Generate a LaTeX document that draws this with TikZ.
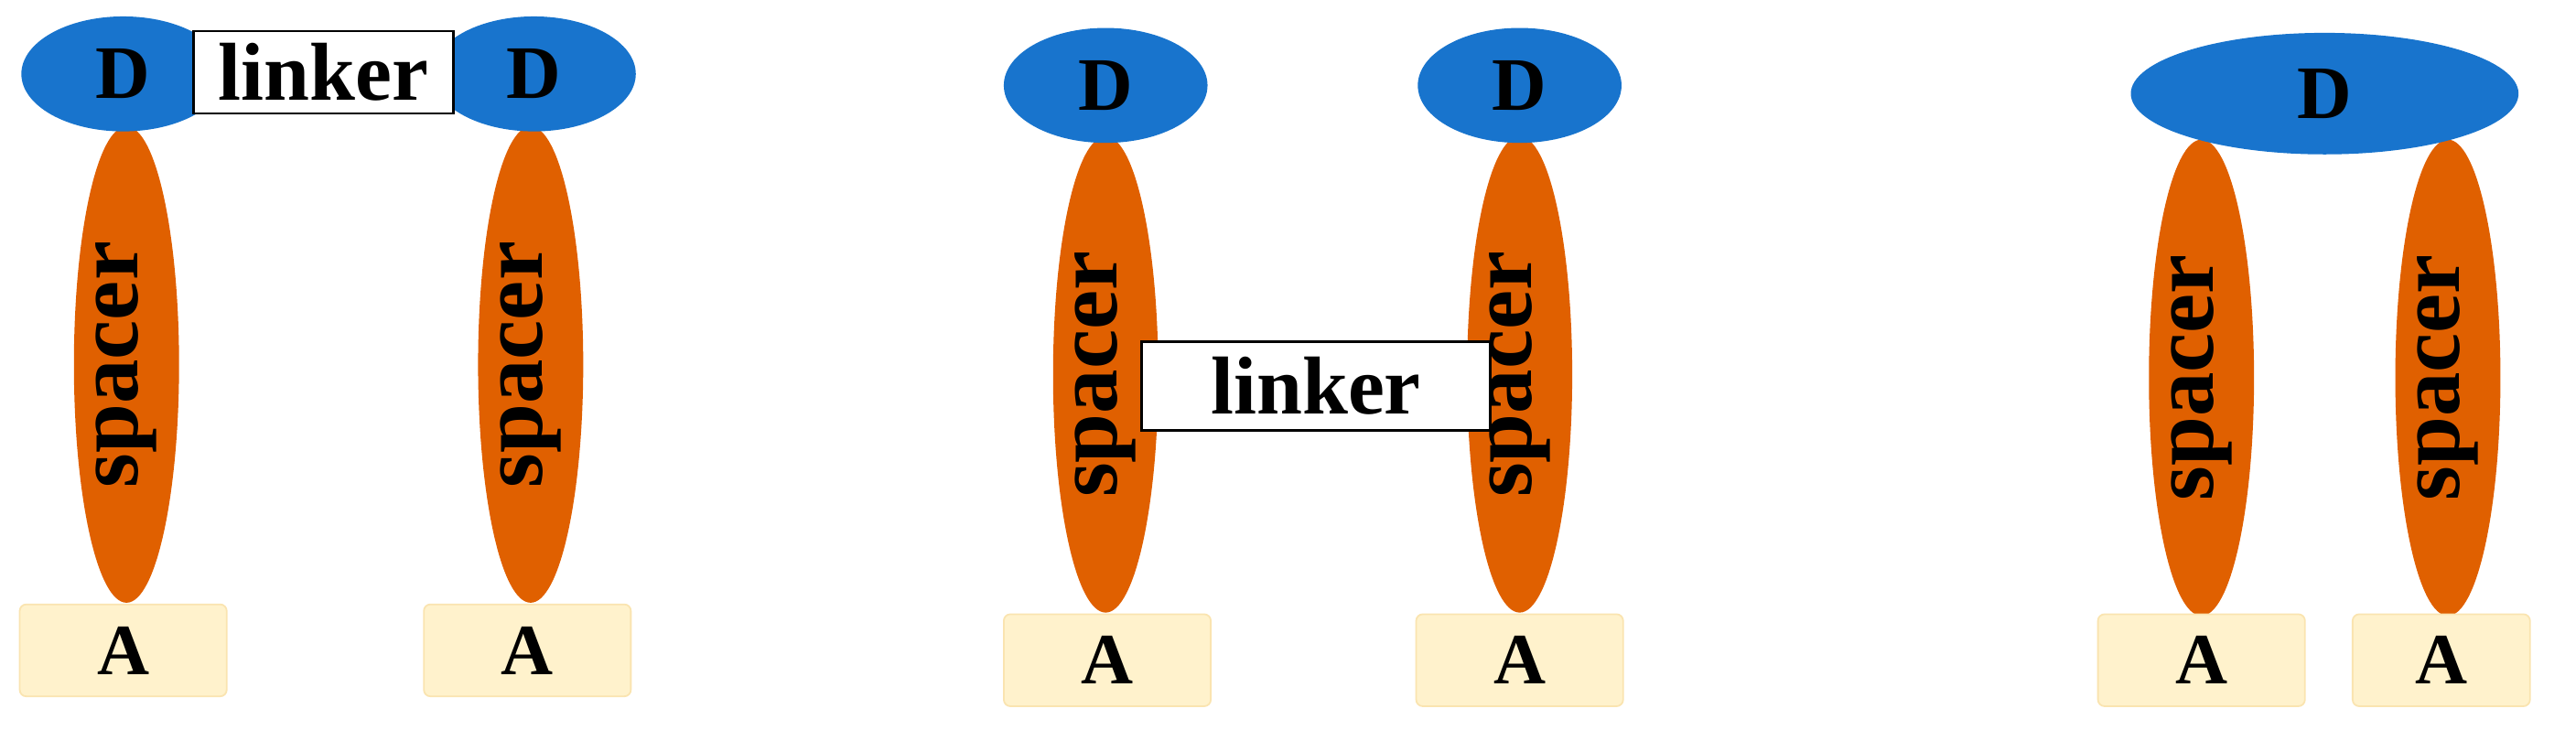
\documentclass[tikz,border=0pt]{standalone}
\usepackage{fontspec}
\setmainfont{Liberation Serif}
\usetikzlibrary{shapes.geometric}
\definecolor{dblue}{RGB}{24,116,205}
\definecolor{sorange}{RGB}{224,96,0}
\definecolor{afill}{RGB}{255,242,204}
\definecolor{aline}{RGB}{250,228,176}
\begin{document}
\begin{tikzpicture}[x=1pt,y=-1pt,
 dnode/.style={ellipse,fill=dblue,inner sep=0,font=\bfseries\fontsize{46}{46}\selectfont},
 spc/.style={ellipse,fill=sorange,minimum width=64,minimum height=290,inner sep=0},
 spt/.style={rotate=90,font=\bfseries\fontsize{54}{54}\selectfont},
 abox/.style={rectangle,rounded corners=4,fill=afill,draw=aline,line width=1,minimum width=126,minimum height=56,inner sep=0,font=\bfseries\fontsize{44}{44}\selectfont},
 lbox/.style={rectangle,draw=black,line width=1.5,fill=white,inner sep=0,font=\bfseries\fontsize{50}{50}\selectfont}]
\useasboundingbox (0,0) rectangle (1568,444);
% panel 1
\node[spc] (s1) at (77,222) {}; \node[spt] (t1) at (s1) {spacer};
\node[spc] (s2) at (323,222) {}; \node[spt] (t2) at (s2) {spacer};
\node[dnode,minimum width=124,minimum height=70] (d1) at (75,45) {D};
\node[dnode,minimum width=124,minimum height=70] (d2) at (325,45) {D};
\node[lbox,minimum width=158,minimum height=50] (l1) at (197,44) {linker};
\node[abox] (a1) at (75,396) {A};
\node[abox] (a2) at (321,396) {A};
% panel 2
\node[spc] (s3) at (673,228) {}; \node[spt] (t3) at (s3) {spacer};
\node[spc] (s4) at (925,228) {}; \node[spt] (t4) at (s4) {spacer};
\node[dnode,minimum width=124,minimum height=70] (d3) at (673,52) {D};
\node[dnode,minimum width=124,minimum height=70] (d4) at (925,52) {D};
\node[lbox,minimum width=212,minimum height=54] (l2) at (801,235) {linker};
\node[abox] (a3) at (674,402) {A};
\node[abox] (a4) at (925,402) {A};
% panel 3
\node[spc] (s5) at (1340,230) {}; \node[spt] (t5) at (s5) {spacer};
\node[spc] (s6) at (1490,230) {}; \node[spt] (t6) at (s6) {spacer};
\node[dnode,minimum width=236,minimum height=74] (d5) at (1415,57) {D};
\node[abox] (a5) at (1340,402) {A};
\node[abox,minimum width=108] (a6) at (1486,402) {A};
\end{tikzpicture}
\end{document}
